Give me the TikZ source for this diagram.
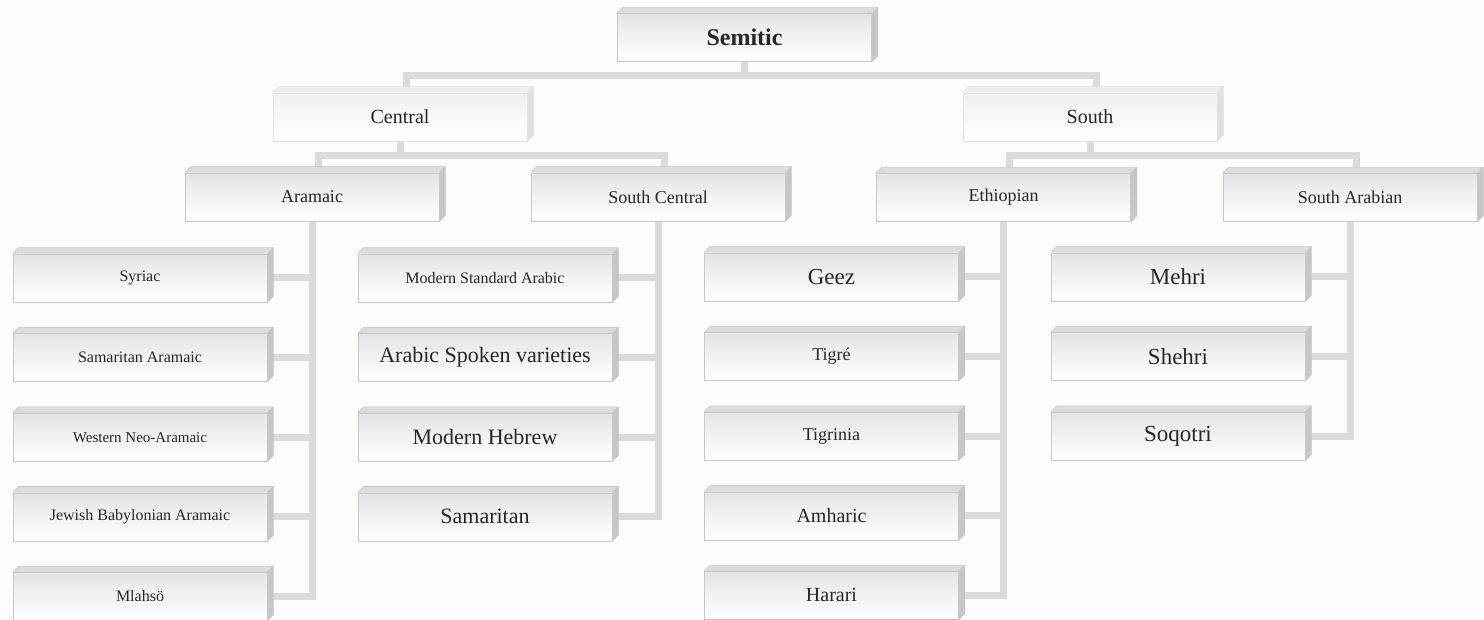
\documentclass[tikz,border=0pt]{standalone}
\usepackage{fontspec}
\setmainfont{Liberation Serif}
\usetikzlibrary{positioning, backgrounds, calc}

\definecolor{paper}{RGB}{252,252,252}
\definecolor{edgegrey}{RGB}{198,200,202}
\definecolor{topgrey}{RGB}{218,220,222}
\definecolor{sidegrey}{RGB}{196,198,200}
\definecolor{facegrey}{RGB}{226,229,232}
\definecolor{paleedge}{RGB}{226,227,228}
\definecolor{paletop}{RGB}{236,237,238}
\definecolor{paleside}{RGB}{222,223,224}
\definecolor{paleface}{RGB}{238,241,242}
\definecolor{linkgrey}{RGB}{218,219,221}

\newcommand{\langsize}[1]{\fontsize{#1}{#1}\selectfont}

\tikzset{
    bevel/.style n args={3}{append after command={\pgfextra{
        \filldraw[draw=#1, fill=#2, line width=0.6pt, line join=round]
            (\tikzlastnode.north west) -- ++(6pt,6pt)
            -- ([shift={(6pt,6pt)}]\tikzlastnode.north east)
            -- (\tikzlastnode.north east) -- cycle;
        \filldraw[draw=#1, fill=#3, line width=0.6pt, line join=round]
            (\tikzlastnode.north east) -- ++(6pt,6pt)
            -- ([shift={(6pt,6pt)}]\tikzlastnode.south east)
            -- (\tikzlastnode.south east) -- cycle;
    }}},
}

\begin{document}
\begin{tikzpicture}[
    x=1pt, y=-1pt,
    node distance=31pt,
    basebox/.style={
        rectangle, minimum width=254pt, minimum height=48pt,
        inner sep=0pt, align=center, line width=0.6pt, text=black!85
    },
    cube/.style={
        basebox, draw=edgegrey, top color=facegrey, bottom color=white,
        bevel={edgegrey}{topgrey}{sidegrey}
    },
    pale/.style={
        basebox, draw=paleedge, top color=paleface, bottom color=white,
        bevel={paleedge}{paletop}{paleside}
    },
    link/.style={draw=linkgrey, line width=7pt},
]

\useasboundingbox (0,0) rectangle (1484,620);

% top levels
\node[cube, font=\bfseries\langsize{24}] (semitic) at (744.5,37.5) {Semitic};

\node[pale, font=\langsize{20}] (central) at (400,117) {Central};
\node[pale, font=\langsize{20}] (south) at (1090,117) {South};

\node[cube, font=\langsize{18}] (aramaic) at (312,197) {Aramaic};
\node[cube, font=\langsize{18}] (scentral) at (658,197) {South Central};
\node[cube, font=\langsize{18}] (ethiopian) at (1003.5,197.5) {Ethiopian};
\node[cube, font=\langsize{18}] (sarabian) at (1350,197.5) {South Arabian};

% Aramaic
\node[cube, font=\langsize{16}] (syriac) at (140,278) {Syriac};
\node[cube, font=\langsize{16}, below=of syriac] (samaram) {Samaritan Aramaic};
\node[cube, font=\langsize{15}, below=of samaram] (wneo) {Western Neo-Aramaic};
\node[cube, font=\langsize{16}, below=of wneo] (jba) {Jewish Babylonian Aramaic};
\node[cube, font=\langsize{16}, below=of jba] (mlahso) {Mlahsö};

% South Central
\node[cube, font=\langsize{16}] (msa) at (485,278) {Modern Standard Arabic};
\node[cube, font=\langsize{22}, below=of msa] (arabsp) {Arabic Spoken varieties};
\node[cube, font=\langsize{22}, below=of arabsp] (hebrew) {Modern Hebrew};
\node[cube, font=\langsize{22}, below=of hebrew] (samar) {Samaritan};

% Ethiopian
\node[cube, font=\langsize{23}] (geez) at (831.5,277) {Geez};
\node[cube, font=\langsize{18}, below=of geez] (tigre) {Tigré};
\node[cube, font=\langsize{18}, below=of tigre] (tigrinia) {Tigrinia};
\node[cube, font=\langsize{20}, below=of tigrinia] (amharic) {Amharic};
\node[cube, font=\langsize{20}, below=of amharic] (harari) {Harari};

% South Arabian
\node[cube, font=\langsize{23}] (mehri) at (1178,277) {Mehri};
\node[cube, font=\langsize{23}, below=of mehri] (shehri) {Shehri};
\node[cube, font=\langsize{23}, below=of shehri] (soqotri) {Soqotri};

\begin{scope}[on background layer]
    \fill[paper] (0,0) rectangle (1484,620);

    % tree links
    \draw[link] (semitic.south) -- ++(0pt,-14pt) coordinate (j0);
    \draw[link] ([shift={(6pt,6pt)}]central.north) |- (j0)
        -| ([shift={(6pt,6pt)}]south.north);

    \draw[link] (central.south) -- ++(0pt,-14.5pt) coordinate (j1);
    \draw[link] ([shift={(6pt,6pt)}]aramaic.north) |- (j1)
        -| ([shift={(6pt,6pt)}]scentral.north);

    \draw[link] (south.south) -- ++(0pt,-14.5pt) coordinate (j2);
    \draw[link] ([shift={(6pt,6pt)}]ethiopian.north) |- (j2)
        -| ([shift={(6pt,6pt)}]sarabian.north);

    \draw[link] (aramaic.south) |- (mlahso.east);
    \foreach \n in {syriac, samaram, wneo, jba}
        \draw[link] (\n.east) -- (\n.east -| aramaic.south);

    \draw[link] (scentral.south) |- (samar.east);
    \foreach \n in {msa, arabsp, hebrew}
        \draw[link] (\n.east) -- (\n.east -| scentral.south);

    \draw[link] (ethiopian.south) |- (harari.east);
    \foreach \n in {geez, tigre, tigrinia, amharic}
        \draw[link] (\n.east) -- (\n.east -| ethiopian.south);

    \draw[link] (sarabian.south) |- (soqotri.east);
    \foreach \n in {mehri, shehri}
        \draw[link] (\n.east) -- (\n.east -| sarabian.south);
\end{scope}

\end{tikzpicture}
\end{document}
